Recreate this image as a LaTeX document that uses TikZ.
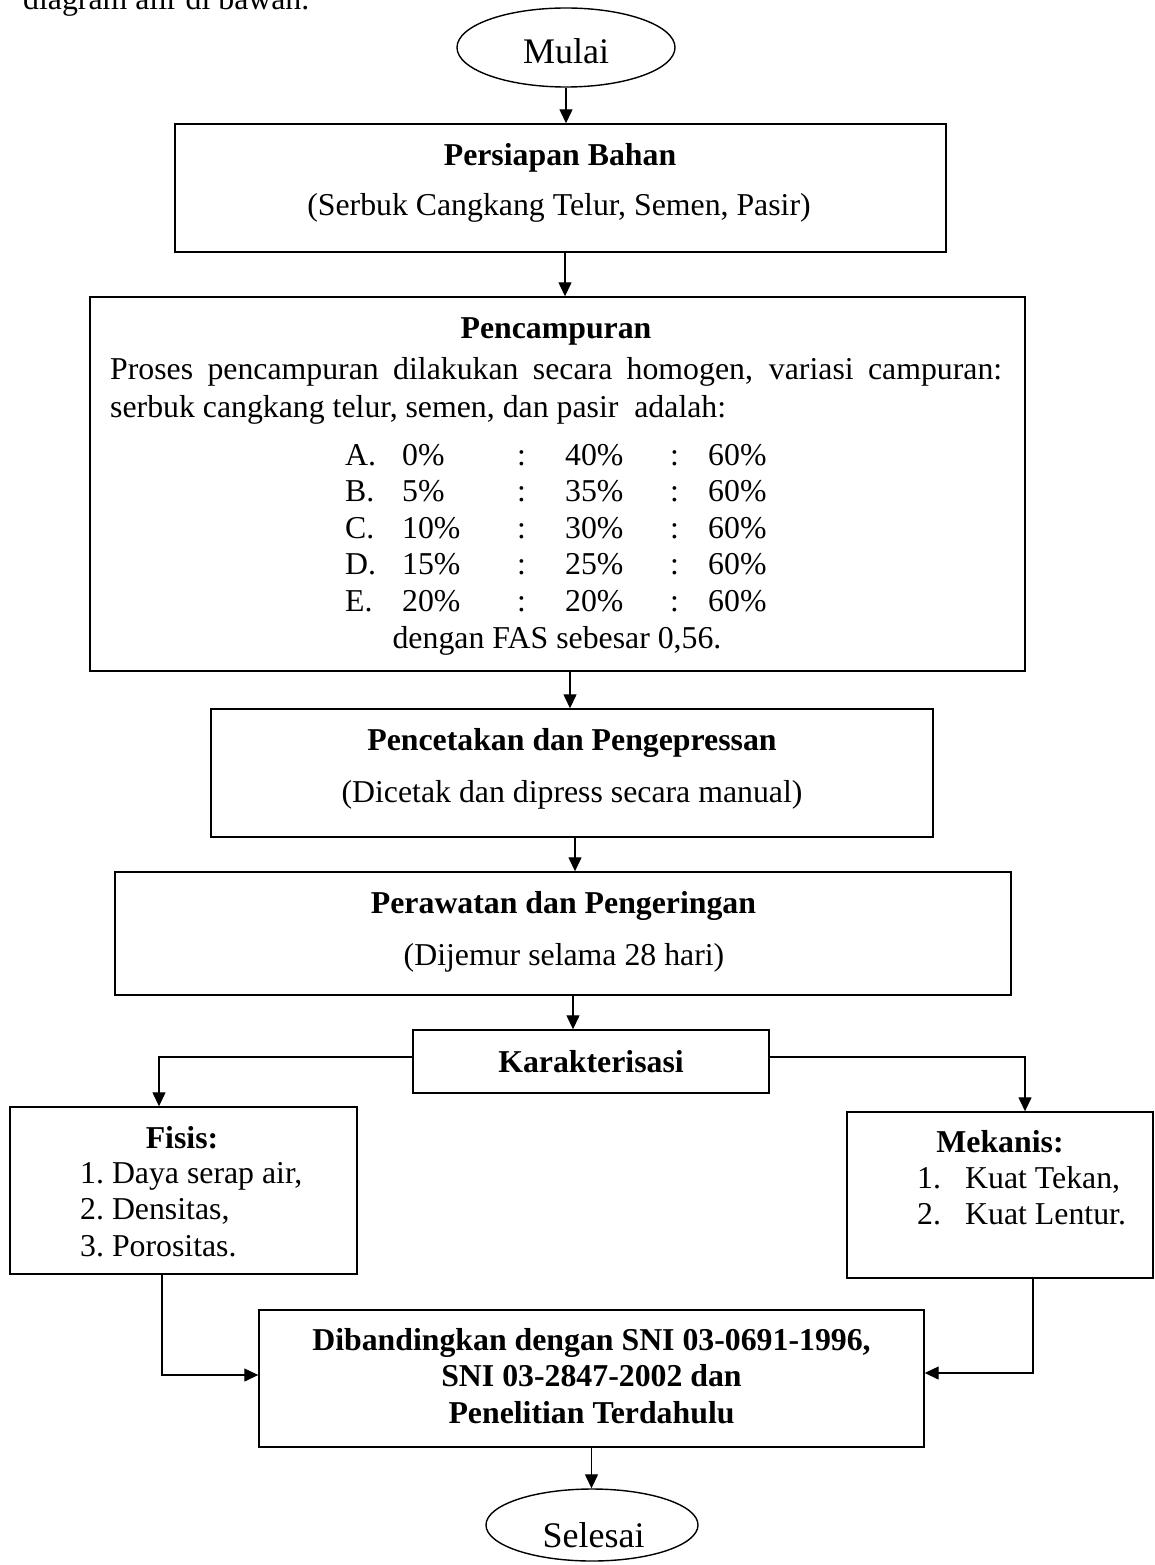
\documentclass[tikz,border=0pt]{standalone}
\usepackage{fontspec}
\setmainfont{Liberation Serif}
\usepackage{tikz}
\usetikzlibrary{arrows.meta,shapes.geometric}
\newcommand{\bodysize}{\fontsize{31.8}{36.6}\selectfont}
\newcommand{\termsize}{\fontsize{36}{42}\selectfont}

\begin{document}
\begin{tikzpicture}[x=1pt,y=-1pt,
  box/.style={draw,line width=1.4pt,inner sep=0pt},
  term/.style={draw,ellipse,line width=1.4pt,inner sep=0pt},
  txt/.style={inner sep=0pt,anchor=base,font=\bodysize},
  arr/.style={-{Triangle[length=14pt,width=13pt]},line width=1.3pt}]
  \useasboundingbox (0,0) rectangle (1155,1565);
  \node[txt,anchor=base west] (intro) at (23,9.5) {diagram alir di bawah.};

  \node[term,minimum width=218pt,minimum height=79pt] (mulai) at (566,47.5) {};
  \node[txt,font=\termsize] (mulaiT) at (566,64) {Mulai};

  \node[box,minimum width=771pt,minimum height=128pt] (bahan) at (560.5,188) {};
  \node[txt] (bahanT) at (560,166) {\bfseries Persiapan Bahan};
  \node[txt] (bahanS) at (559,215) {(Serbuk Cangkang Telur, Semen, Pasir)};

  \node[box,minimum width=935pt,minimum height=374pt] (campur) at (557.5,484) {};
  \node[txt] (campurT) at (556,338) {\bfseries Pencampuran};
  \node[txt,anchor=base west] (campurP) at (110,379)
    {\makebox[892pt][s]{Proses pencampuran dilakukan secara homogen, variasi campuran:}};
  \node[txt,anchor=base west] (campurQ) at (110,417)
    {serbuk cangkang telur, semen, dan pasir\ \ adalah:};
  \node[txt,anchor=base west] (rasio) at (345,465)
    {\begin{tabular}[t]{@{}p{57pt}@{}p{115pt}@{}p{48pt}@{}p{105pt}@{}p{38pt}@{}l@{}}
      A. & 0\%  & : & 40\% & : & 60\%\\
      B. & 5\%  & : & 35\% & : & 60\%\\
      C. & 10\% & : & 30\% & : & 60\%\\
      D. & 15\% & : & 25\% & : & 60\%\\
      E. & 20\% & : & 20\% & : & 60\%
    \end{tabular}};
  \node[txt] (fas) at (557,648) {dengan FAS sebesar 0,56.};

  \node[box,minimum width=722pt,minimum height=128pt] (cetak) at (572,773) {};
  \node[txt] (cetakT) at (572,750) {\bfseries Pencetakan dan Pengepressan};
  \node[txt] (cetakS) at (572,802) {(Dicetak dan dipress secara manual)};

  \node[box,minimum width=896pt,minimum height=123pt] (rawat) at (563,933.5) {};
  \node[txt] (rawatT) at (563.5,913) {\bfseries Perawatan dan Pengeringan};
  \node[txt] (rawatS) at (564,965) {(Dijemur selama 28 hari)};

  \node[box,minimum width=356pt,minimum height=63pt,font=\bodysize\bfseries]
    (karak) at (591,1061.5) {Karakterisasi};

  \node[box,minimum width=347pt,minimum height=167pt] (fisis) at (183.5,1190.5) {};
  \node[txt] (fisisT) at (182,1148) {\bfseries Fisis:};
  \node[txt,anchor=base west] (fisisL) at (80,1183)
    {\begin{tabular}[t]{@{}l@{}}1.\ Daya serap air,\\2.\ Densitas,\\3.\ Porositas.\end{tabular}};

  \node[box,minimum width=306pt,minimum height=166pt] (mekanis) at (1000,1195) {};
  \node[txt] (mekanisT) at (1000,1152) {\bfseries Mekanis:};
  \node[txt,anchor=base west] (mekanisL) at (917,1188)
    {\begin{tabular}[t]{@{}p{48pt}@{}l@{}}1. & Kuat Tekan,\\2. & Kuat Lentur.\end{tabular}};

  \node[box,minimum width=665pt,minimum height=137pt] (banding) at (591.5,1378.5) {};
  \node[txt] (bandingT) at (591.5,1350)
    {\bfseries\begin{tabular}[t]{@{}c@{}}Dibandingkan dengan SNI 03-0691-1996,\\
      SNI 03-2847-2002 dan\\Penelitian Terdahulu\end{tabular}};

  \node[term,minimum width=212pt,minimum height=72pt] (selesai) at (592,1525) {};
  \node[txt,font=\termsize] (selesaiT) at (593.5,1547) {Selesai};

  % alur utama
  \draw[arr] (mulai.south) -- (mulai.south |- bahan.north);
  \draw[arr] ([xshift=4.5pt]bahan.south) -- ([xshift=4.5pt]bahan.south |- campur.north);
  \draw[arr] ([xshift=12.5pt]campur.south) -- ([xshift=12.5pt]campur.south |- cetak.north);
  \draw[arr] ([xshift=3pt]cetak.south) -- ([xshift=3pt]cetak.south |- rawat.north);
  \draw[arr] ([xshift=10pt]rawat.south) -- ([xshift=10pt]rawat.south |- karak.north);
  % cabang karakterisasi
  \draw[arr] ([yshift=4.5pt]karak.west) -| ([xshift=-24.5pt]fisis.north);
  \draw[arr] ([yshift=4.5pt]karak.east) -| ([xshift=25pt]mekanis.north);
  \draw[arr] ([xshift=-21.5pt]fisis.south) |- ([yshift=3.5pt]banding.west);
  \draw[arr] ([xshift=33pt]mekanis.south) |- ([yshift=5.5pt]banding.east);
  \draw[arr] (banding.south) -- (banding.south |- selesai.north);
\end{tikzpicture}
\end{document}
